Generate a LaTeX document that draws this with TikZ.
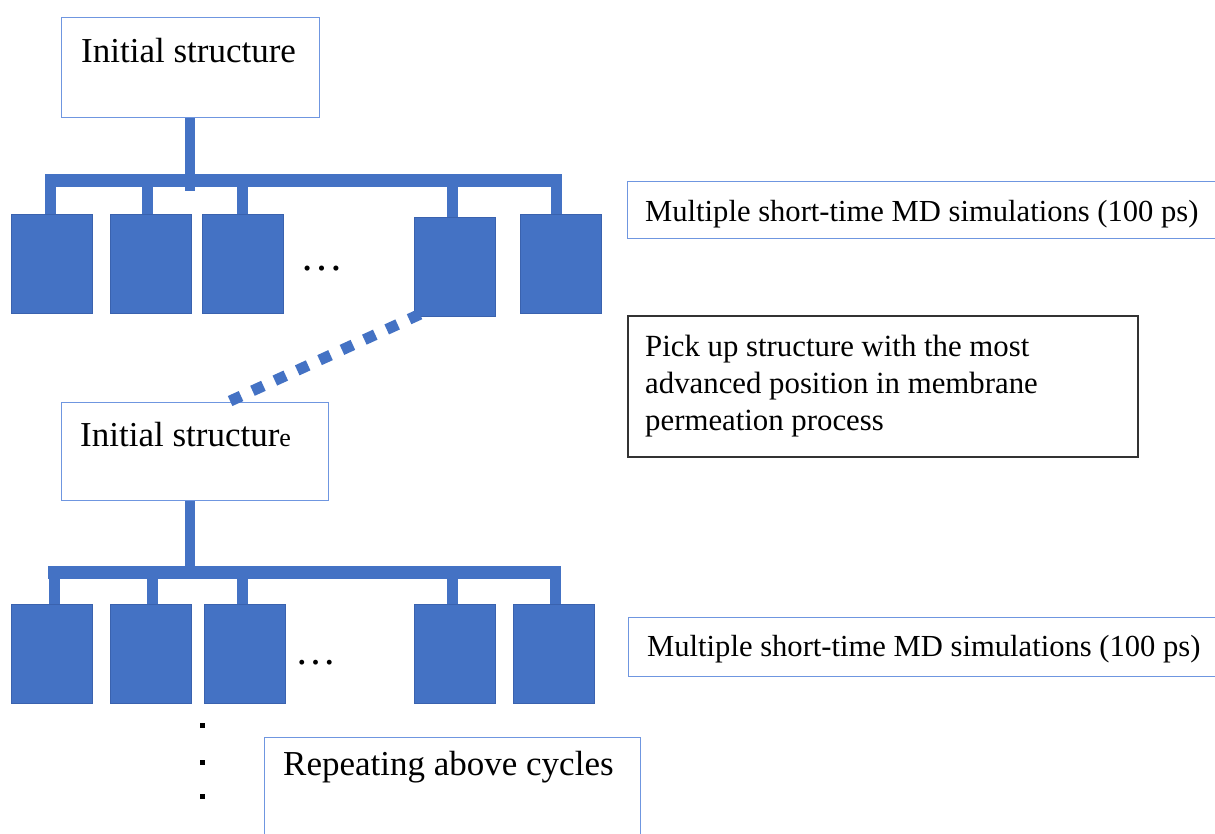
\documentclass[tikz,border=0pt]{standalone}
\usepackage{fontspec}
\setmainfont{Liberation Serif}
\usetikzlibrary{calc}
\definecolor{simblue}{HTML}{4472C4}
\definecolor{simedge}{HTML}{3A62AE}
\definecolor{boxline}{HTML}{6F96E0}
\newcommand{\fsz}[1]{\fontsize{#1}{#1}\selectfont}

\begin{document}
\begin{tikzpicture}[x=1pt,y=-1pt,
  simbox/.style={fill=simblue, draw=simedge, line width=1.2pt,
    minimum width=81pt, minimum height=99pt, anchor=north west, inner sep=0pt},
  txtbox/.style={draw=boxline, line width=1.4pt, fill=white,
    anchor=north west, inner sep=0pt},
  notebox/.style={draw=black!80, line width=1.8pt, fill=white,
    anchor=north west, inner sep=0pt},
  label/.style={anchor=base west, inner sep=0pt, text=black},
  treebar/.style={draw=simblue, line width=13pt},
  treestem/.style={draw=simblue, line width=10.5pt},
  treedrop/.style={draw=simblue, line width=11pt},
  dotlink/.style={draw=simblue, line width=11pt, dash pattern=on 12pt off 12.6pt},
  vdot/.style={fill=black, minimum size=5pt, inner sep=0pt},
]
\useasboundingbox (0,0) rectangle (1215,833);
\fill[white] (0,0) rectangle (1215,833);

% ---- first cycle ----
\node[txtbox, minimum width=258pt, minimum height=100pt] (init1) at (61,17) {};
\node[label, font=\fsz{35}] (init1t) at (81,62) {Initial structure};

\node[simbox] (b11) at (11,214) {};
\node[simbox] (b12) at (110,214) {};
\node[simbox] (b13) at (202,214) {};
\node[simbox] (b14) at (414,217) {};
\node[simbox] (b15) at (520,214) {};
\node[label, font=\fsz{43}] (dots1) at (300,270) {…};

\coordinate (bar1w) at (45,180.5);
\coordinate (bar1e) at (562,180.5);
\draw[treestem] (190,0 |- init1.south) -- ++(0,73);
\draw[treebar] (bar1w) -- (bar1e);
\foreach \b/\x in {b11/50,b12/147,b13/242,b14/452,b15/556}
  \draw[treedrop] (\x,180) -- (\x,0 |- \b.north);

\node[txtbox, minimum width=600pt, minimum height=57pt] (sim1) at (627,181) {};
\node[label, font=\fsz{30.6}] (sim1t) at (645,221) {Multiple short-time MD simulations (100 ps)};

\node[notebox, minimum width=510pt, minimum height=141pt] (pick) at (627,315) {};
\node[label, font=\fsz{30.8}] (pick1) at (645,356) {Pick up structure with the most};
\node[label, font=\fsz{30.8}] (pick2) at (645,393) {advanced position in membrane};
\node[label, font=\fsz{30.8}] (pick3) at (645,430) {permeation process};

% ---- second cycle ----
\node[txtbox, minimum width=267pt, minimum height=98pt] (init2) at (61,402) {};
\node[label, font=\fsz{35}] (init2t) at (80,446) {Initial structur{\fsz{26}e}};

\draw[dotlink] ($(b14.south west)+(6,-3)$) -- (228,0 |- init2.north);

\node[simbox] (b21) at (11,604) {};
\node[simbox] (b22) at (110,604) {};
\node[simbox] (b23) at (204,604) {};
\node[simbox] (b24) at (414,604) {};
\node[simbox] (b25) at (513,604) {};
\node[label, font=\fsz{41}] (dots2) at (295,664) {…};

\coordinate (bar2w) at (48,572.5);
\coordinate (bar2e) at (561,572.5);
\draw[treestem] (190,0 |- init2.south) -- ++(0,70);
\draw[treebar] (bar2w) -- (bar2e);
\foreach \b/\x in {b21/54,b22/152,b23/242,b24/452,b25/555}
  \draw[treedrop] (\x,572) -- (\x,0 |- \b.north);

\node[txtbox, minimum width=600pt, minimum height=59pt] (sim2) at (628,617) {};
\node[label, font=\fsz{30.6}] (sim2t) at (647,656) {Multiple short-time MD simulations (100 ps)};

% ---- continuation ----
\node[vdot] (v1) at (202,725) {};
\node[vdot] (v2) at (202,762) {};
\node[vdot] (v3) at (202,796) {};

\node[txtbox, minimum width=376pt, minimum height=120pt] (rep) at (264,737) {};
\node[label, font=\fsz{35}] (rept) at (283,775) {Repeating above cycles};
\end{tikzpicture}
\end{document}
